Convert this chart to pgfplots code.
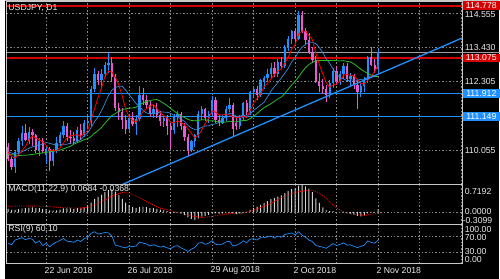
\documentclass[border=0pt]{standalone}
\usepackage{pgfplots}
\pgfplotsset{compat=1.18}
\usepackage{pgfplotstable}
\usepackage{fontspec}
\setmainfont{Liberation Sans}
\definecolor{bull}{RGB}{30,144,255}
\definecolor{bear}{RGB}{232,90,205}
\definecolor{lvred}{RGB}{215,0,0}
\definecolor{lvblue}{RGB}{30,144,255}
\definecolor{gridc}{RGB}{135,135,135}
\definecolor{framec}{RGB}{200,200,200}
\definecolor{txt}{RGB}{235,235,235}
\definecolor{ma1}{RGB}{255,0,0}
\definecolor{ma2}{RGB}{60,140,220}
\definecolor{ma3}{RGB}{40,190,40}
\definecolor{histc}{RGB}{210,210,210}

\pgfplotstableread{
i o h l c
-9 109.52 110.05 109.30 109.98
-8 109.98 110.45 109.90 110.35
-7 110.35 110.86 110.20 110.62
-5 110.40 110.80 110.25 110.65
-2 110.05 110.45 109.85 110.35
0 109.90 110.20 109.60 110.10
2 109.70 110.10 109.55 110.05
3 110.05 110.48 109.95 110.30
4 110.30 110.65 110.20 110.55
5 110.55 111.00 110.45 110.85
9 110.35 110.80 110.30 110.70
11 110.55 111.05 110.50 110.95
12 110.95 111.15 110.75 111.00
13 111.00 112.15 110.85 112.05
14 112.05 112.75 111.95 112.55
16 112.35 112.70 112.05 112.55
17 112.55 112.95 112.45 112.85
18 112.85 113.26 112.60 112.90
24 110.75 111.20 110.65 111.10
26 110.90 111.20 110.55 111.08
27 111.08 112.16 111.00 111.85
31 111.25 111.55 111.10 111.40
34 111.00 111.20 110.80 111.10
37 110.70 111.25 110.60 111.15
38 111.15 111.35 110.80 111.25
42 110.05 110.40 110.00 110.35
43 110.35 110.60 110.15 110.55
44 110.55 111.35 110.45 111.25
45 111.25 111.50 111.05 111.40
47 111.10 111.35 110.95 111.25
48 111.25 111.83 111.15 111.70
51 110.95 111.20 110.90 111.10
52 111.10 111.50 111.00 111.40
53 111.40 111.75 111.30 111.55
56 110.85 111.20 110.75 111.10
57 111.10 111.65 111.00 111.60
59 111.30 112.00 111.20 111.95
60 111.95 112.15 111.75 112.05
62 111.85 112.40 111.80 112.35
63 112.30 112.50 112.05 112.42
64 112.42 112.70 112.30 112.55
65 112.55 112.90 112.40 112.75
67 112.55 113.05 112.45 112.95
69 112.80 113.50 112.75 113.45
70 113.45 113.80 113.30 113.70
71 113.70 114.00 113.55 113.95
73 113.70 114.60 113.65 114.50
82 111.85 112.35 111.75 112.25
83 112.25 112.75 112.10 112.65
85 112.30 112.65 112.20 112.55
86 112.55 112.90 112.40 112.80
88 112.40 112.60 112.15 112.50
91 111.95 112.25 111.80 112.15
92 112.15 112.45 111.95 112.35
93 112.35 113.15 112.25 113.10
96 112.70 113.38 112.60 113.26
}\bulltab

\pgfplotstableread{
i o h l c
-11 110.15 110.28 109.70 109.75
-10 109.75 109.85 109.40 109.52
-6 110.62 110.90 110.35 110.40
-4 110.65 110.75 110.20 110.55
-3 110.55 110.60 109.95 110.05
-1 110.35 110.45 109.95 110.02
1 110.10 110.15 109.37 109.70
6 110.85 110.95 110.35 110.50
7 110.50 110.70 110.25 110.45
8 110.45 110.65 110.25 110.35
10 110.70 110.90 110.40 110.55
15 112.55 112.65 112.20 112.35
19 112.90 113.10 112.30 112.45
20 112.45 112.55 111.35 111.45
21 111.45 111.60 111.05 111.30
22 111.30 111.45 110.75 111.05
23 111.05 111.20 110.60 110.75
25 111.10 111.30 110.85 110.90
28 111.85 112.10 111.55 111.70
29 111.70 111.85 111.40 111.55
30 111.55 111.70 111.15 111.25
32 111.40 111.60 111.10 111.20
33 111.20 111.35 110.85 111.00
35 111.10 111.20 110.55 110.85
36 110.85 110.95 110.10 110.70
39 111.25 111.30 110.70 110.85
40 110.85 110.95 110.35 110.50
41 110.50 110.60 109.88 110.05
46 111.40 111.45 111.00 111.10
49 111.70 111.80 110.95 111.05
50 111.05 111.20 110.85 110.95
54 111.55 111.60 110.50 110.75
55 110.95 111.15 110.70 110.85
58 111.60 111.70 111.20 111.30
61 112.05 112.15 111.70 111.85
66 112.75 112.95 112.45 112.55
68 112.95 113.10 112.70 112.80
72 113.95 114.05 113.60 113.70
74 114.50 114.62 113.90 113.95
75 113.95 114.05 113.55 113.65
76 113.65 113.90 113.20 113.25
77 113.25 113.45 112.90 113.00
78 113.00 113.15 112.25 112.30
79 112.30 112.60 111.95 112.15
80 112.15 112.40 111.90 112.05
81 112.05 112.20 111.65 111.85
84 112.65 112.80 112.20 112.30
87 112.80 112.90 112.30 112.40
89 112.50 112.55 112.05 112.20
90 112.20 112.40 111.40 111.95
94 113.10 113.42 112.80 112.85
95 112.85 113.05 112.60 112.70
}\beartab

\pgfplotstableread{
i m
-11 0.08
-10 0.05
-9 0.05
-8 0.07
-7 0.09
-6 0.10
-5 0.11
-4 0.12
-3 0.10
-2 0.10
-1 0.08
0 0.07
1 0.04
2 0.03
3 0.04
4 0.06
5 0.09
6 0.09
7 0.09
8 0.08
9 0.10
10 0.10
11 0.13
12 0.16
13 0.25
14 0.34
15 0.40
16 0.46
17 0.53
18 0.58
19 0.60
20 0.54
21 0.45
22 0.35
23 0.25
24 0.18
25 0.13
26 0.10
27 0.13
28 0.14
29 0.13
30 0.10
31 0.10
32 0.08
33 0.06
34 0.05
35 0.02
36 -0.03
37 -0.03
38 -0.02
39 -0.05
40 -0.09
41 -0.15
42 -0.19
43 -0.22
44 -0.18
45 -0.13
46 -0.11
47 -0.08
48 -0.03
49 -0.04
50 -0.05
51 -0.04
52 -0.02
53 0.00
54 -0.04
55 -0.06
56 -0.05
57 -0.02
58 -0.01
59 0.05
60 0.10
61 0.14
62 0.19
63 0.24
64 0.29
65 0.34
66 0.37
67 0.41
68 0.44
69 0.50
70 0.56
71 0.61
72 0.63
73 0.70
74 0.72
75 0.68
76 0.62
77 0.53
78 0.36
79 0.24
80 0.12
81 0.05
82 0.02
83 0.02
84 0.00
85 -0.01
86 0.00
87 -0.02
88 -0.05
89 -0.08
90 -0.11
91 -0.12
92 -0.10
93 -0.04
94 -0.02
95 -0.01
96 0.0684
}\macdtab

\begin{document}
\begin{tikzpicture}[x=1pt,y=1pt,font=\fontsize{8.8}{10}\selectfont]
\fill[black] (0,0) rectangle (500,282);
\draw[framec, line width=0.8pt] (0,281.2) -- (500,281.2);
% ---------------- main panel
\begin{axis}[
  at={(1.5pt,95pt)}, anchor=south west,
  scale only axis, width=461pt, height=186pt,
  xmin=-11.4, xmax=120.3, ymin=108.924, ymax=114.943,
  axis line style={framec, line width=0.8pt},
  xtick={0,12,...,120}, ytick={110.055,111.18,112.305,113.43,114.555},
  xticklabels={}, yticklabels={}, major tick length=0pt,
  grid=major, major grid style={gridc, dash pattern=on 1.5pt off 2pt, line width=0.6pt},
  clip=false,
]
\draw[gray!75!white, line width=0.7pt] (axis cs:-11.4,113.26) -- ++(499pt,0pt);
\addplot[lvred, line width=2pt] coordinates {(-11.4,114.778) (120.3,114.778)};
\addplot[lvred, line width=2pt] coordinates {(-11.4,113.075) (120.3,113.075)};
\addplot[lvblue, line width=1.4pt] coordinates {(-11.4,111.912) (120.3,111.912)};
\addplot[lvblue, line width=1.4pt] coordinates {(-11.4,111.149) (120.3,111.149)};
% wicks
\addplot[draw=none, mark=none, error bars/.cd, y dir=plus, y explicit, error mark=none,
  error bar style={draw=bull, line width=0.8pt}]
  table[x=i, y=l, y error plus expr=\thisrow{h}-\thisrow{l}] {\bulltab};
\addplot[draw=none, mark=none, error bars/.cd, y dir=plus, y explicit, error mark=none,
  error bar style={draw=bear, line width=0.8pt}]
  table[x=i, y=l, y error plus expr=\thisrow{h}-\thisrow{l}] {\beartab};
% bodies
\addplot[draw=none, mark=none, error bars/.cd, y dir=plus, y explicit, error mark=none,
  error bar style={draw=bull, line width=2.3pt}]
  table[x=i, y=o, y error plus expr=\thisrow{c}-\thisrow{o}] {\bulltab};
\addplot[draw=none, mark=none, error bars/.cd, y dir=plus, y explicit, error mark=none,
  error bar style={draw=bear, line width=2.3pt}]
  table[x=i, y=c, y error plus expr=\thisrow{o}-\thisrow{c}] {\beartab};
% moving averages
\addplot[ma3, line width=0.8pt] coordinates {(-11,109.92) (-8,109.88) (-5,109.90) (-2,109.95) (1,110.00) (4,110.06) (7,110.18) (8,110.2545) (9,110.302) (10,110.3535) (11,110.402) (12,110.4345) (13,110.506) (14,110.6135) (15,110.6985) (16,110.7985) (17,110.9385) (18,111.066) (19,111.1875) (20,111.255) (21,111.335) (22,111.385) (23,111.4075) (24,111.435) (25,111.4375) (26,111.4665) (27,111.5365) (28,111.604) (29,111.6465) (30,111.6815) (31,111.704) (32,111.714) (33,111.6615) (34,111.589) (35,111.514) (36,111.4215) (37,111.3365) (38,111.254) (39,111.174) (40,111.1265) (41,111.064) (42,111.029) (43,111.019) (44,111.0265) (45,111.0515) (46,111.0525) (47,111.0225) (48,111.0225) (49,110.9975) (50,110.9825) (51,110.9675) (52,110.9775) (53,111.005) (54,110.9875) (55,110.9875) (56,111.0075) (57,111.03) (58,111.0325) (59,111.0875) (60,111.165) (61,111.255) (62,111.355) (63,111.4485) (64,111.5135) (65,111.581) (66,111.6535) (67,111.7385) (68,111.7935) (69,111.9135) (70,112.051) (71,112.1935) (72,112.3085) (73,112.456) (74,112.616) (75,112.756) (76,112.8635) (77,112.9335) (78,112.9835) (79,112.9935) (80,112.9935) (81,112.9935) (82,112.9885) (83,113.00) (84,112.9875) (85,112.9775) (86,112.99) (87,112.9625) (88,112.9475) (89,112.885) (90,112.7975) (91,112.7075) (92,112.64) (93,112.57) (94,112.515) (95,112.4675) (96,112.468)};
\addplot[ma2, line width=0.7pt] coordinates {(-11,110.00) (-9,109.92) (-7,110.00) (-5,110.12) (-3,110.20) (-2,110.222) (-1,110.249) (0,110.307) (1,110.279) (2,110.249) (3,110.217) (4,110.232) (5,110.252) (6,110.247) (7,110.287) (8,110.287) (9,110.355) (10,110.40) (11,110.525) (12,110.62) (13,110.795) (14,110.995) (15,111.145) (16,111.35) (17,111.59) (18,111.845) (19,112.02) (20,112.11) (21,112.145) (22,112.15) (23,112.02) (24,111.875) (25,111.73) (26,111.583) (27,111.483) (28,111.363) (29,111.273) (30,111.253) (31,111.263) (32,111.278) (33,111.303) (34,111.303) (35,111.298) (36,111.26) (37,111.19) (38,111.145) (39,111.075) (40,111.00) (41,110.865) (42,110.78) (43,110.735) (44,110.75) (45,110.805) (46,110.845) (47,110.855) (48,110.90) (49,110.92) (50,110.965) (51,111.07) (52,111.175) (53,111.275) (54,111.225) (55,111.17) (56,111.17) (57,111.205) (58,111.165) (59,111.255) (60,111.365) (61,111.44) (62,111.535) (63,111.622) (64,111.802) (65,111.992) (66,112.137) (67,112.272) (68,112.422) (69,112.572) (70,112.737) (71,112.947) (72,113.082) (73,113.29) (74,113.43) (75,113.52) (76,113.59) (77,113.595) (78,113.545) (79,113.415) (80,113.25) (81,113.04) (82,112.895) (83,112.71) (84,112.545) (85,112.435) (86,112.39) (87,112.33) (88,112.35) (89,112.355) (90,112.345) (91,112.375) (92,112.385) (93,112.43) (94,112.485) (95,112.50) (96,112.546)};
\addplot[ma1, line width=0.8pt] coordinates {(-11,110.00) (-10,109.85) (-9,109.80) (-8,109.90) (-7,110.044) (-6,110.174) (-5,110.40) (-4,110.514) (-3,110.454) (-2,110.40) (-1,110.324) (0,110.214) (1,110.044) (2,110.044) (3,110.034) (4,110.14) (5,110.29) (6,110.45) (7,110.53) (8,110.54) (9,110.57) (10,110.51) (11,110.60) (12,110.71) (13,111.05) (14,111.42) (15,111.78) (16,112.10) (17,112.47) (18,112.64) (19,112.62) (20,112.44) (21,112.19) (22,111.83) (23,111.40) (24,111.13) (25,111.02) (26,110.976) (27,111.136) (28,111.326) (29,111.416) (30,111.486) (31,111.55) (32,111.42) (33,111.28) (34,111.19) (35,111.11) (36,110.97) (37,110.96) (38,111.01) (39,110.96) (40,110.89) (41,110.76) (42,110.60) (43,110.46) (44,110.54) (45,110.72) (46,110.93) (47,111.11) (48,111.34) (49,111.30) (50,111.21) (51,111.21) (52,111.24) (53,111.21) (54,111.15) (55,111.13) (56,111.13) (57,111.17) (58,111.12) (59,111.36) (60,111.60) (61,111.75) (62,111.90) (63,112.124) (64,112.244) (65,112.384) (66,112.524) (67,112.644) (68,112.72) (69,112.90) (70,113.09) (71,113.37) (72,113.52) (73,113.86) (74,113.96) (75,113.95) (76,113.81) (77,113.67) (78,113.23) (79,112.87) (80,112.55) (81,112.27) (82,112.12) (83,112.19) (84,112.22) (85,112.32) (86,112.51) (87,112.54) (88,112.51) (89,112.49) (90,112.37) (91,112.24) (92,112.23) (93,112.35) (94,112.48) (95,112.63) (96,112.852)};
% trend line
\addplot[lvblue, line width=1.3pt] coordinates {(21.85,108.924) (120.3,113.730)};
% right labels
\node[anchor=west, inner sep=0pt, txt] at (axis cs:120.3,114.555) [xshift=2.5pt, yshift=-1.5pt] {114.555};
\node[anchor=west, inner sep=0pt, txt] at (axis cs:120.3,113.430) [xshift=2.5pt] {113.430};
\node[anchor=west, inner sep=0pt, txt] at (axis cs:120.3,112.305) [xshift=2.5pt] {112.305};
\node[anchor=west, inner sep=0pt, txt] at (axis cs:120.3,110.055) [xshift=2.5pt] {110.055};
\node[anchor=west, fill=lvred, text=white, inner sep=0pt, minimum width=37.5pt, minimum height=9pt] at (axis cs:120.3,114.778) [xshift=0.5pt, yshift=0.8pt] {114.778};
\node[anchor=west, fill=lvred, text=white, inner sep=0pt, minimum width=37.5pt, minimum height=9pt] at (axis cs:120.3,113.075) [xshift=0.5pt] {113.075};
\node[anchor=west, fill=lvblue, text=white, inner sep=0pt, minimum width=37.5pt, minimum height=9pt] at (axis cs:120.3,111.912) [xshift=0.5pt] {111.912};
\node[anchor=west, fill=lvblue, text=white, inner sep=0pt, minimum width=37.5pt, minimum height=9pt] at (axis cs:120.3,111.149) [xshift=0.5pt] {111.149};
\end{axis}
\node[anchor=west, inner sep=0pt, txt] at (3,273.5) {USDJPY, D1};
% ---------------- MACD panel
\begin{axis}[
  at={(1.5pt,55pt)}, anchor=south west,
  scale only axis, width=461pt, height=40pt,
  xmin=-11.4, xmax=120.3, ymin=-0.330, ymax=0.7256,
  axis line style={framec, line width=0.8pt},
  xtick={0,12,...,120}, ytick={0},
  xticklabels={}, yticklabels={}, major tick length=0pt,
  grid=major, major grid style={gridc, dash pattern=on 1.5pt off 2pt, line width=0.6pt},
  clip=false,
]
\addplot[ybar, bar width=1pt, fill=histc, draw=none] table[x=i, y=m] {\macdtab};
\addplot[ma1, line width=0.8pt, dash pattern=on 1pt off 1.2pt] coordinates {(-11,0.15) (-5,0.16) (0,0.15) (5,0.11) (10,0.10) (13,0.14) (16,0.27) (19,0.42) (22,0.52) (24,0.50) (27,0.38) (30,0.22) (33,0.10) (36,0.03) (39,-0.04) (42,-0.11) (45,-0.15) (48,-0.12) (51,-0.07) (54,-0.04) (57,-0.04) (60,0.05) (63,0.15) (66,0.28) (69,0.42) (72,0.52) (75,0.57) (77,0.58) (79,0.50) (81,0.36) (83,0.18) (85,0.05) (87,-0.03) (89,-0.07) (92,-0.09) (96,-0.037)};
\end{axis}
\node[anchor=west, inner sep=0pt, txt] at (3,90) {MACD(11,22,9) 0.0684 -0.0368};
\node[anchor=west, inner sep=0pt, txt] at (465,87.7) {0.7192};
\node[anchor=west, inner sep=0pt, txt] at (465,67.5) {0.0000};
\node[anchor=west, inner sep=0pt, txt] at (463,59) {-0.3099};
% ---------------- RSI panel
\begin{axis}[
  at={(1.5pt,15pt)}, anchor=south west,
  scale only axis, width=461pt, height=40pt,
  xmin=-11.4, xmax=120.3, ymin=0, ymax=100,
  axis line style={framec, line width=0.8pt},
  xtick={0,12,...,120}, ytick={30,70},
  xticklabels={}, yticklabels={}, major tick length=0pt,
  grid=major, major grid style={gridc, dash pattern=on 1.5pt off 2pt, line width=0.6pt},
  clip=false,
]
\addplot[lvblue, line width=0.7pt] coordinates {(-11,52) (-10,48) (-9,60) (-8,63) (-7,66) (-6,61) (-5,64) (-4,62) (-3,52) (-2,58) (-1,46) (0,52) (1,43) (2,50) (3,55) (4,59) (5,64) (6,57) (7,56) (8,54) (9,60) (10,56) (11,64) (12,66) (13,77) (14,81) (15,75) (16,77) (17,79) (18,78) (19,70) (20,47) (21,45) (22,42) (23,40) (24,45) (25,43) (26,45) (27,55) (28,52) (29,50) (30,45) (31,48) (32,45) (33,42) (34,44) (35,40) (36,38) (37,44) (38,46) (39,40) (40,36) (41,31) (42,37) (43,41) (44,52) (45,54) (46,49) (47,52) (48,58) (49,49) (50,48) (51,50) (52,55) (53,57) (54,45) (55,47) (56,51) (57,58) (58,53) (59,62) (60,63) (61,60) (62,66) (63,66) (64,68) (65,70) (66,65) (67,70) (68,67) (69,74) (70,76) (71,78) (72,73) (73,81) (74,72) (75,67) (76,60) (77,56) (78,46) (79,44) (80,42) (81,39) (82,45) (83,51) (84,46) (85,49) (86,53) (87,47) (88,48) (89,44) (90,41) (91,44) (92,47) (93,58) (94,54) (95,52) (96,60.1)};
\node[anchor=west, inner sep=0pt, txt] at (axis cs:0,-16.25) [xshift=-1.7pt] {22 Jun 2018};
\node[anchor=west, inner sep=0pt, txt] at (axis cs:24,-16.25) [xshift=-1.7pt] {26 Jul 2018};
\node[anchor=west, inner sep=0pt, txt] at (axis cs:48,-16.25) [xshift=-1.7pt] {29 Aug 2018};
\node[anchor=west, inner sep=0pt, txt] at (axis cs:72,-16.25) [xshift=-1.7pt] {2 Oct 2018};
\node[anchor=west, inner sep=0pt, txt] at (axis cs:96,-16.25) [xshift=-1.7pt] {2 Nov 2018};
\end{axis}
\node[anchor=west, inner sep=0pt, txt] at (3,49.5) {RSI(9) 60.10};
\node[anchor=west, inner sep=0pt, txt] at (465,50) {100.00};
\node[anchor=west, inner sep=0pt, txt] at (465,42) {70.00};
\node[anchor=west, inner sep=0pt, txt] at (465,27.5) {30.00};
\node[anchor=west, inner sep=0pt, txt] at (465,19.7) {0.00};
\end{tikzpicture}
\end{document}
